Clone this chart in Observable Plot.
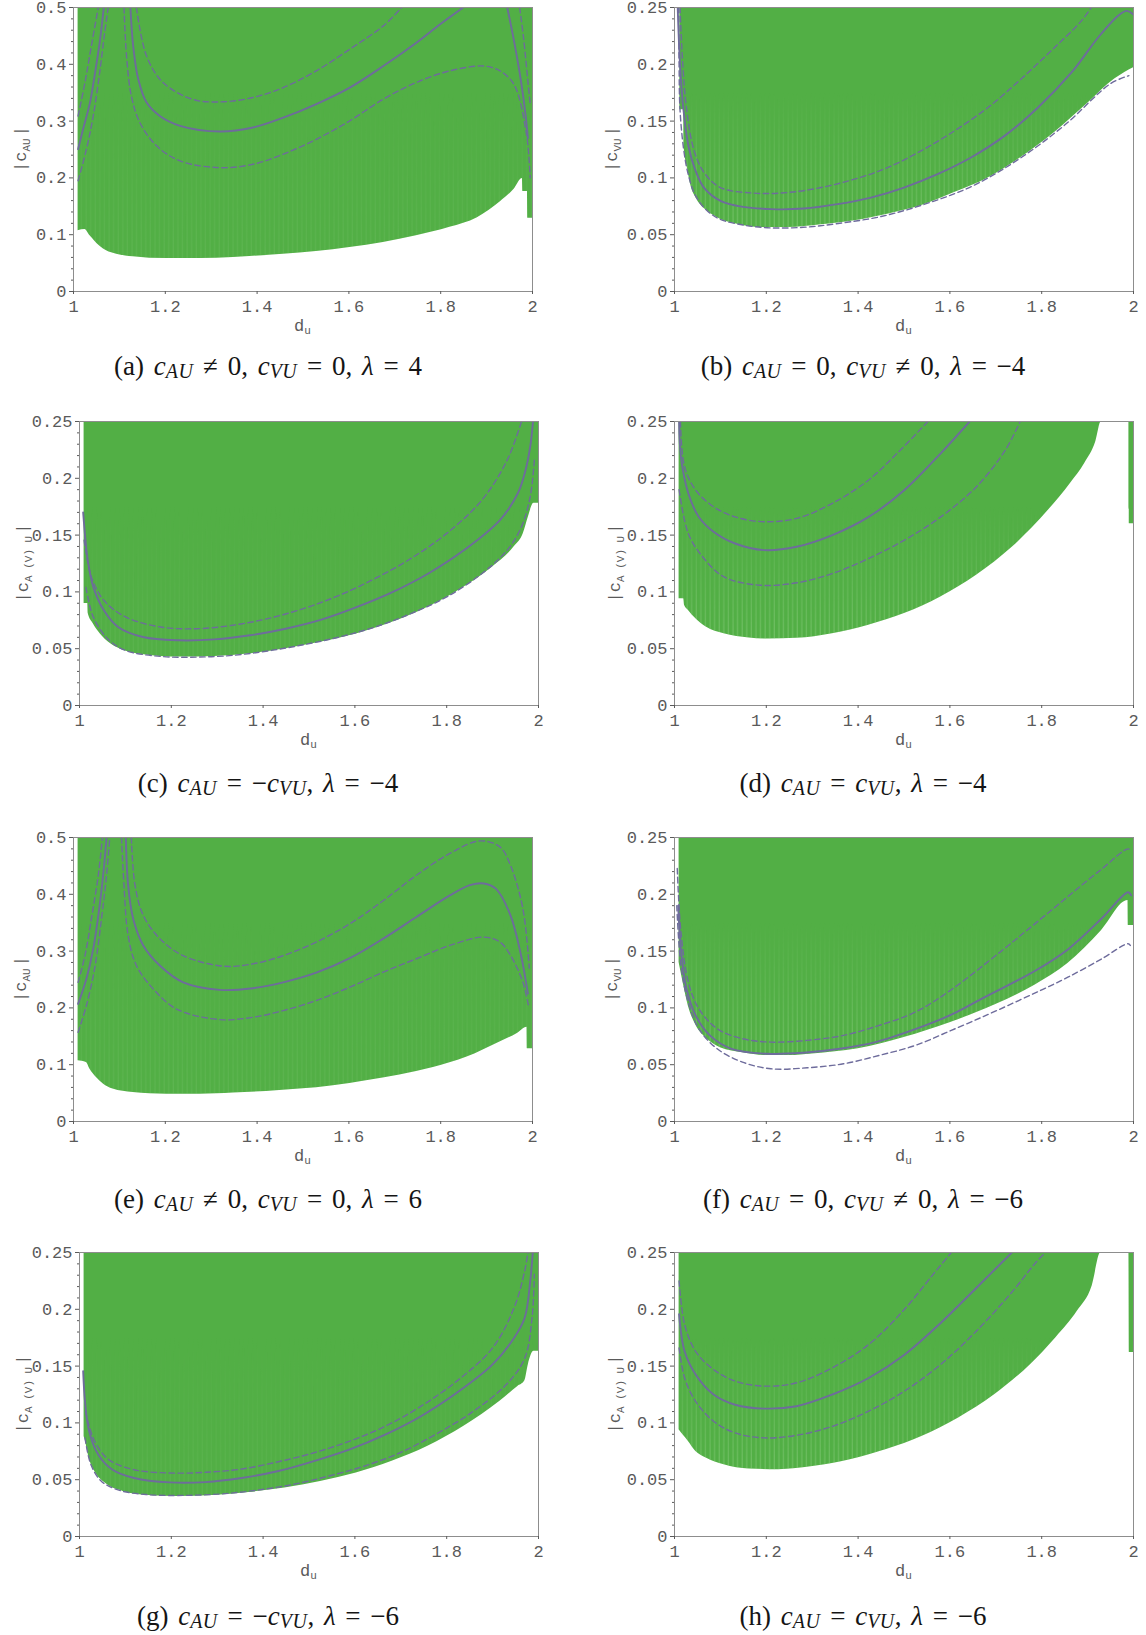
<!DOCTYPE html>
<html>
<head>
<meta charset="utf-8">
<script src="https://cdn.jsdelivr.net/npm/d3@7"></script>
<script src="https://cdn.jsdelivr.net/npm/@observablehq/plot@0.6"></script>
<style>
  html, body { margin: 0; padding: 0; background: #fff; }
  #fig { position: relative; width: 1146px; height: 1635px; overflow: hidden; background: #fff; }
  .cap { position: absolute; transform: translate(-50%, -50%); white-space: nowrap;
         font-family: "Liberation Serif", "DejaVu Serif", serif; font-size: 27px; color: #151515; word-spacing: 3px; }
  .cap sub { font-size: 0.74em; vertical-align: -0.2em; font-style: italic; letter-spacing: 0.5px; }
  .cap i { font-style: italic; }
</style>
</head>
<body>
<div id="fig"></div>
<script>
// ---------------- tick values ----------------
const X_TICKS = [1, 1.2, 1.4, 1.6, 1.8, 2];
const Y_TICKS_HALF = [0, 0.1, 0.2, 0.3, 0.4, 0.5];
const Y_TICKS_QUARTER = [0, 0.05, 0.1, 0.15, 0.2, 0.25];

// ---------------- (a) ----------------
const a_fill_x  = [1.01, 1.025, 1.036, 1.046, 1.057, 1.072, 1.094, 1.13, 1.166, 1.239, 1.312, 1.384, 1.457, 1.529, 1.602, 1.675, 1.747, 1.82, 1.88, 1.93, 1.96, 1.978, 1.979, 1.989, 1.99, 2.0];
const a_fill_lo = [0.107, 0.109, 0.098, 0.089, 0.080, 0.0716, 0.0657, 0.061, 0.0587, 0.058, 0.0587, 0.0616, 0.0657, 0.0704, 0.0775, 0.0863, 0.098, 0.113, 0.13, 0.158, 0.18, 0.199, 0.176, 0.176, 0.129, 0.129];
const a_solid_x = [1.01, 1.021, 1.036, 1.046, 1.057, 1.066, NaN, 1.124, 1.13, 1.141, 1.159, 1.188, 1.232, 1.319, 1.391, 1.457, 1.529, 1.602, 1.675, 1.747, 1.798, 1.849, NaN, 1.945, 1.96, 1.975, 1.985, 1.99];
const a_solid_y = [0.2506, 0.286, 0.333, 0.38, 0.438, 0.5, NaN, 0.5, 0.4325, 0.374, 0.333, 0.309, 0.2917, 0.2817, 0.2887, 0.306, 0.33, 0.359, 0.397, 0.438, 0.47, 0.5, NaN, 0.5, 0.44, 0.37, 0.31, 0.27];
const a_up_x = [1.01, 1.025, 1.039, 1.054, NaN, 1.137, 1.159, 1.195, 1.261, 1.326, 1.391, 1.457, 1.529, 1.602, 1.675, 1.715, NaN, 1.972, 1.98, 1.99, 1.995];
const a_up_y = [0.309, 0.368, 0.4325, 0.5, NaN, 0.5, 0.415, 0.368, 0.338, 0.334, 0.3415, 0.359, 0.3885, 0.4266, 0.4677, 0.5, NaN, 0.5, 0.45, 0.37, 0.33];
const a_lo_x = [1.01, 1.028, 1.043, 1.057, 1.068, 1.0755, NaN, 1.11, 1.1155, 1.126, 1.1445, 1.181, 1.232, 1.319, 1.391, 1.457, 1.529, 1.602, 1.675, 1.747, 1.82, 1.893, 1.929, 1.96, 1.987, 1.995];
const a_lo_y = [0.195, 0.25, 0.309, 0.3855, 0.456, 0.5, NaN, 0.5, 0.415, 0.3445, 0.2975, 0.2565, 0.23, 0.218, 0.224, 0.2418, 0.268, 0.3005, 0.3386, 0.368, 0.3885, 0.397, 0.3885, 0.364, 0.276, 0.2];

// ---------------- (b) ----------------
const b_fill_x  = [1.0116, 1.02, 1.021, 1.028, 1.035, 1.049, 1.071, 1.1, 1.137, 1.195, 1.246, 1.319, 1.392, 1.464, 1.537, 1.61, 1.683, 1.755, 1.828, 1.901, 1.959, 1.981, 2.0];
const b_fill_lo = [0.16, 0.16, 0.127, 0.109, 0.0945, 0.081, 0.071, 0.0637, 0.0593, 0.0563, 0.0563, 0.0587, 0.0622, 0.068, 0.0754, 0.0871, 0.1, 0.118, 0.14, 0.166, 0.187, 0.1928, 0.197];
const b_solid_x = [1.007, 1.012, 1.019, 1.031, 1.046, 1.064, 1.1, 1.137, 1.21, 1.282, 1.355, 1.428, 1.5, 1.573, 1.646, 1.719, 1.792, 1.865, 1.923, 1.9665, 1.985, 1.999];
const b_solid_y = [0.25, 0.2, 0.162, 0.1268, 0.1062, 0.0915, 0.0798, 0.0754, 0.0725, 0.073, 0.0769, 0.0827, 0.0915, 0.1033, 0.118, 0.137, 0.162, 0.1928, 0.2236, 0.2427, 0.247, 0.244];
const b_up_x = [1.012, 1.018, 1.026, 1.042, 1.064, 1.1, 1.173, 1.246, 1.319, 1.392, 1.464, 1.537, 1.61, 1.683, 1.755, 1.828, 1.886, 1.908];
const b_up_y = [0.25, 0.2, 0.162, 0.125, 0.105, 0.0915, 0.0866, 0.0871, 0.0915, 0.0989, 0.109, 0.1238, 0.1414, 0.162, 0.187, 0.2148, 0.238, 0.25];
const b_lo_x = [1.009, 1.01, 1.012, 1.02, 1.03, 1.045, 1.07, 1.1, 1.15, 1.21, 1.28, 1.35, 1.45, 1.55, 1.65, 1.75, 1.85, 1.95, 1.99];
const b_lo_y = [0.25, 0.2, 0.16, 0.125, 0.103, 0.085, 0.0715, 0.0635, 0.0585, 0.056, 0.0565, 0.0595, 0.066, 0.0775, 0.093, 0.1165, 0.1465, 0.183, 0.19];

// ---------------- (c) ----------------
const c_fill_x  = [1.01, 1.018, 1.019, 1.03, 1.045, 1.068, 1.1, 1.154, 1.216, 1.294, 1.372, 1.449, 1.527, 1.605, 1.683, 1.76, 1.838, 1.9, 1.947, 1.967, 1.978, 1.99, 2.0];
const c_fill_lo = [0.0897, 0.0897, 0.081, 0.072, 0.0632, 0.0544, 0.048, 0.0441, 0.0426, 0.0432, 0.0456, 0.05, 0.0559, 0.0632, 0.0735, 0.0868, 0.1044, 0.122, 0.1397, 0.1515, 0.166, 0.178, 0.178];
const c_solid_x = [1.008, 1.018, 1.03, 1.053, 1.084, 1.138, 1.216, 1.294, 1.372, 1.449, 1.527, 1.605, 1.683, 1.76, 1.838, 1.916, 1.955, 1.97, 1.982, 1.988];
const c_solid_y = [0.17, 0.128, 0.1044, 0.0838, 0.0691, 0.0603, 0.0574, 0.0582, 0.0618, 0.0676, 0.0756, 0.0868, 0.1, 0.1162, 0.1368, 0.1632, 0.1868, 0.2044, 0.228, 0.25];
const c_up_x = [1.01, 1.026, 1.053, 1.1, 1.177, 1.255, 1.333, 1.41, 1.488, 1.566, 1.644, 1.722, 1.8, 1.877, 1.932, 1.963];
const c_up_y = [0.1456, 0.113, 0.0926, 0.078, 0.0691, 0.0676, 0.0706, 0.0765, 0.0853, 0.097, 0.1118, 0.1294, 0.1515, 0.181, 0.2162, 0.25];
const c_lo_x = [1.014, 1.03, 1.061, 1.1, 1.177, 1.255, 1.333, 1.41, 1.488, 1.566, 1.644, 1.722, 1.8, 1.877, 1.932, 1.963, 1.982, 1.991];
const c_lo_y = [0.104, 0.078, 0.0588, 0.0485, 0.0432, 0.0426, 0.0441, 0.048, 0.0535, 0.0603, 0.0691, 0.0809, 0.0956, 0.1162, 0.1368, 0.1574, 0.184, 0.216];

// ---------------- (d) ----------------
const d_fill_x  = [1.01, 1.02, 1.022, 1.03, 1.046, 1.069, 1.108, 1.163, 1.203, 1.266, 1.344, 1.423, 1.501, 1.58, 1.658, 1.737, 1.815, 1.863, 1.894, 1.918, 1.93, 1.99, 1.991, 2.0];
const d_fill_lo = [0.094, 0.094, 0.088, 0.0838, 0.0765, 0.0691, 0.0632, 0.0594, 0.0585, 0.0591, 0.0632, 0.0706, 0.0809, 0.0956, 0.1147, 0.1397, 0.172, 0.1956, 0.2132, 0.2324, 0.25, 0.25, 0.16, 0.16];
const d_solid_x = [1.01, 1.014, 1.03, 1.053, 1.085, 1.132, 1.195, 1.266, 1.344, 1.423, 1.501, 1.58, 1.643];
const d_solid_y = [0.25, 0.219, 0.1868, 0.166, 0.153, 0.1426, 0.1368, 0.1397, 0.15, 0.166, 0.1897, 0.222, 0.25];
const d_up_x = [1.013, 1.022, 1.046, 1.085, 1.132, 1.195, 1.266, 1.344, 1.423, 1.485, 1.552];
const d_up_y = [0.25, 0.21, 0.1897, 0.175, 0.166, 0.1618, 0.1647, 0.178, 0.1985, 0.222, 0.25];
const d_lo_x = [1.01, 1.03, 1.061, 1.108, 1.187, 1.266, 1.344, 1.423, 1.501, 1.58, 1.658, 1.721, 1.753];
const d_lo_y = [0.19, 0.1515, 0.131, 0.1132, 0.1059, 0.108, 0.1162, 0.1294, 0.1456, 0.166, 0.1926, 0.225, 0.25];

// ---------------- (e) ----------------
const e_fill_x  = [1.01, 1.028, 1.036, 1.05, 1.065, 1.086, 1.13, 1.203, 1.275, 1.348, 1.42, 1.493, 1.566, 1.638, 1.711, 1.784, 1.856, 1.929, 1.967, 1.988, 1.989, 2.0];
const e_fill_lo = [0.107, 0.104, 0.092, 0.0776, 0.066, 0.057, 0.051, 0.048, 0.048, 0.05, 0.053, 0.057, 0.063, 0.0718, 0.0818, 0.095, 0.113, 0.14, 0.155, 0.166, 0.128, 0.128];
const e_solid_x = [1.01, 1.028, 1.043, 1.057, 1.066, 1.072, NaN, 1.114, 1.119, 1.13, 1.152, 1.188, 1.239, 1.319, 1.391, 1.457, 1.529, 1.602, 1.675, 1.747, 1.82, 1.8635, 1.894, 1.92, 1.952, 1.975, 1.99];
const e_solid_y = [0.207, 0.251, 0.304, 0.3806, 0.445, 0.5, NaN, 0.5, 0.416, 0.357, 0.31, 0.2747, 0.245, 0.2318, 0.2347, 0.245, 0.262, 0.2875, 0.322, 0.36, 0.398, 0.416, 0.419, 0.41, 0.363, 0.2926, 0.225];
const e_up_x = [1.01, 1.025, 1.039, 1.054, 1.063, NaN, 1.126, 1.134, 1.152, 1.188, 1.239, 1.326, 1.391, 1.457, 1.529, 1.602, 1.675, 1.747, 1.82, 1.885, 1.929, 1.952, 1.979, 1.993];
const e_up_y = [0.245, 0.292, 0.357, 0.4335, 0.5, NaN, 0.5, 0.416, 0.363, 0.322, 0.292, 0.2735, 0.2776, 0.292, 0.316, 0.348, 0.389, 0.4335, 0.472, 0.494, 0.4835, 0.451, 0.375, 0.27];
const e_lo_x = [1.01, 1.028, 1.046, 1.061, 1.072, 1.079, NaN, 1.1046, 1.11, 1.119, 1.137, 1.1736, 1.2244, 1.319, 1.391, 1.457, 1.529, 1.602, 1.675, 1.747, 1.82, 1.893, 1.929, 1.952, 1.979, 1.991];
const e_lo_y = [0.157, 0.204, 0.269, 0.357, 0.4335, 0.5, NaN, 0.5, 0.416, 0.3276, 0.2747, 0.2335, 0.198, 0.1794, 0.1835, 0.1953, 0.213, 0.2365, 0.263, 0.2865, 0.31, 0.3247, 0.316, 0.2926, 0.2456, 0.2045];

// ---------------- (f) ----------------
const f_fill_x  = [1.01, 1.02, 1.03, 1.045, 1.07, 1.1, 1.15, 1.2, 1.25, 1.3, 1.4, 1.5, 1.6, 1.7, 1.785, 1.857, 1.93, 1.988, 1.989, 2.0];
const f_fill_lo = [0.14, 0.12, 0.102, 0.086, 0.073, 0.065, 0.0605, 0.058, 0.058, 0.0595, 0.064, 0.074, 0.087, 0.103, 0.12, 0.139, 0.168, 0.1945, 0.1725, 0.1725];
const f_solid_x = [1.008, 1.014, 1.026, 1.046, 1.077, 1.124, 1.203, 1.281, 1.36, 1.438, 1.517, 1.603, 1.676, 1.785, 1.857, 1.93, 1.988, 1.995];
const f_solid_y = [0.19, 0.152, 0.117, 0.0934, 0.0758, 0.064, 0.0596, 0.0605, 0.064, 0.0699, 0.0802, 0.094, 0.1095, 0.1325, 0.1515, 0.1785, 0.2018, 0.199];
const f_up_x = [1.006, 1.014, 1.03, 1.053, 1.093, 1.148, 1.21, 1.289, 1.368, 1.446, 1.525, 1.603, 1.712, 1.785, 1.857, 1.93, 1.988, 1.995];
const f_up_y = [0.2227, 0.1669, 0.1228, 0.0993, 0.0817, 0.0729, 0.0699, 0.0714, 0.0758, 0.0846, 0.0964, 0.116, 0.150, 0.174, 0.198, 0.222, 0.240, 0.238];
const f_lo_x = [1.005, 1.014, 1.03, 1.053, 1.093, 1.148, 1.21, 1.289, 1.368, 1.446, 1.525, 1.603, 1.682, 1.75, 1.806, 1.857, 1.93, 1.988, 1.993];
const f_lo_y = [0.19, 0.1375, 0.105, 0.0817, 0.064, 0.0523, 0.0464, 0.0473, 0.0508, 0.0582, 0.067, 0.0802, 0.094, 0.1065, 0.117, 0.127, 0.143, 0.1565, 0.155];

// ---------------- (g) ----------------
const g_fill_x  = [1.01, 1.013, 1.021, 1.033, 1.056, 1.095, 1.15, 1.2125, 1.29, 1.369, 1.447, 1.525, 1.603, 1.681, 1.759, 1.8375, 1.916, 1.955, 1.97, 1.978, 1.99, 2.0];
const g_fill_lo = [0.088, 0.0838, 0.069, 0.0574, 0.047, 0.0397, 0.0362, 0.0353, 0.0362, 0.0388, 0.0426, 0.0485, 0.0559, 0.0662, 0.0794, 0.097, 0.119, 0.132, 0.1368, 0.1515, 0.163, 0.163];
const g_solid_x = [1.008, 1.012, 1.021, 1.041, 1.072, 1.119, 1.197, 1.275, 1.353, 1.431, 1.509, 1.5875, 1.666, 1.744, 1.822, 1.9, 1.947, 1.97, 1.982, 1.9875];
const g_solid_y = [0.1456, 0.119, 0.0926, 0.072, 0.0588, 0.0515, 0.0476, 0.0479, 0.0515, 0.0574, 0.0662, 0.0765, 0.0897, 0.1059, 0.1265, 0.1515, 0.175, 0.1926, 0.225, 0.25];
const g_up_x = [1.013, 1.033, 1.064, 1.119, 1.197, 1.275, 1.353, 1.431, 1.509, 1.5875, 1.666, 1.744, 1.822, 1.9, 1.947, 1.97, 1.977];
const g_up_y = [0.110, 0.0838, 0.0676, 0.0588, 0.0559, 0.0565, 0.0594, 0.0656, 0.0735, 0.0838, 0.097, 0.1147, 0.1368, 0.166, 0.2015, 0.234, 0.25];
const g_lo_x = [1.012, 1.025, 1.048, 1.0875, 1.15, 1.228, 1.306, 1.384, 1.4625, 1.54, 1.619, 1.697, 1.775, 1.853, 1.93, 1.97, 1.986, 1.991];
const g_lo_y = [0.0868, 0.0632, 0.0485, 0.0406, 0.0368, 0.0362, 0.0374, 0.0406, 0.0456, 0.0529, 0.0618, 0.0735, 0.0897, 0.1088, 0.1338, 0.157, 0.1926, 0.231];

// ---------------- (h) ----------------
const h_fill_x  = [1.01, 1.018, 1.03, 1.046, 1.069, 1.108, 1.163, 1.226, 1.305, 1.383, 1.462, 1.54, 1.619, 1.698, 1.776, 1.831, 1.878, 1.91, 1.929, 1.99, 1.991, 2.0];
const h_fill_lo = [0.094, 0.0897, 0.0838, 0.075, 0.0691, 0.0632, 0.0594, 0.0588, 0.0618, 0.0676, 0.0765, 0.0882, 0.1044, 0.125, 0.1515, 0.175, 0.1985, 0.2206, 0.25, 0.25, 0.162, 0.162];
const h_solid_x = [1.01, 1.022, 1.046, 1.085, 1.132, 1.195, 1.266, 1.344, 1.423, 1.501, 1.58, 1.658, 1.735];
const h_solid_y = [0.1956, 0.163, 0.1426, 0.125, 0.116, 0.1126, 0.1147, 0.125, 0.1395, 0.16, 0.188, 0.219, 0.25];
const h_up_x = [1.01, 1.022, 1.046, 1.085, 1.132, 1.195, 1.266, 1.344, 1.423, 1.501, 1.564, 1.603];
const h_up_y = [0.225, 0.1868, 0.163, 0.147, 0.1368, 0.1324, 0.1353, 0.1485, 0.169, 0.2, 0.231, 0.25];
const h_lo_x = [1.01, 1.022, 1.046, 1.085, 1.132, 1.195, 1.266, 1.344, 1.423, 1.501, 1.58, 1.658, 1.737, 1.784, 1.808];
const h_lo_y = [0.166, 0.1397, 0.119, 0.1015, 0.0912, 0.0868, 0.0891, 0.097, 0.1103, 0.128, 0.1515, 0.181, 0.216, 0.2397, 0.25];

// ---------------- labels ----------------
const Y_LABEL_SUBS = ["AU", "VU", "A (V) U", "A (V) U", "AU", "VU", "A (V) U", "A (V) U"];
const CAPTION_TAGS = ["(a)", "(b)", "(c)", "(d)", "(e)", "(f)", "(g)", "(h)"];
const CAPTION_EXPR = [
  "c_AU ≠ 0, c_VU = 0, λ = 4",
  "c_AU = 0, c_VU ≠ 0, λ = −4",
  "c_AU = −c_VU, λ = −4",
  "c_AU = c_VU, λ = −4",
  "c_AU ≠ 0, c_VU = 0, λ = 6",
  "c_AU = 0, c_VU ≠ 0, λ = −6",
  "c_AU = −c_VU, λ = −6",
  "c_AU = c_VU, λ = −6"
];
const X_LABEL = ["d", "u"];

// ---------------- rendering ----------------
const GREEN = "#52af45";
const STRIPE = "#a9de9e";
const CURVE = "#6e6c9c";
const AXIS_GRAY = "#5a5a5a";

const panels = [
  {fx: a_fill_x, fy: a_fill_lo, sx: a_solid_x, sy: a_solid_y, ux: a_up_x, uy: a_up_y, lx: a_lo_x, ly: a_lo_y, ymax: 0.5},
  {fx: b_fill_x, fy: b_fill_lo, sx: b_solid_x, sy: b_solid_y, ux: b_up_x, uy: b_up_y, lx: b_lo_x, ly: b_lo_y, ymax: 0.25},
  {fx: c_fill_x, fy: c_fill_lo, sx: c_solid_x, sy: c_solid_y, ux: c_up_x, uy: c_up_y, lx: c_lo_x, ly: c_lo_y, ymax: 0.25},
  {fx: d_fill_x, fy: d_fill_lo, sx: d_solid_x, sy: d_solid_y, ux: d_up_x, uy: d_up_y, lx: d_lo_x, ly: d_lo_y, ymax: 0.25},
  {fx: e_fill_x, fy: e_fill_lo, sx: e_solid_x, sy: e_solid_y, ux: e_up_x, uy: e_up_y, lx: e_lo_x, ly: e_lo_y, ymax: 0.5},
  {fx: f_fill_x, fy: f_fill_lo, sx: f_solid_x, sy: f_solid_y, ux: f_up_x, uy: f_up_y, lx: f_lo_x, ly: f_lo_y, ymax: 0.25},
  {fx: g_fill_x, fy: g_fill_lo, sx: g_solid_x, sy: g_solid_y, ux: g_up_x, uy: g_up_y, lx: g_lo_x, ly: g_lo_y, ymax: 0.25},
  {fx: h_fill_x, fy: h_fill_lo, sx: h_solid_x, sy: h_solid_y, ux: h_up_x, uy: h_up_y, lx: h_lo_x, ly: h_lo_y, ymax: 0.25}
];
// frame positions (left, top), y-label offsets and stripe strength
const LAYOUT = [
  {left: 73, top: 7, ylab: -53, stripe: 0.2}, {left: 674, top: 7, ylab: -63, stripe: 0.65},
  {left: 79, top: 421, ylab: -57, stripe: 0.18}, {left: 674, top: 421, ylab: -60, stripe: 0.65},
  {left: 73, top: 837, ylab: -53, stripe: 0.2}, {left: 674, top: 837, ylab: -63, stripe: 0.65},
  {left: 79, top: 1252, ylab: -57, stripe: 0.18}, {left: 674, top: 1252, ylab: -60, stripe: 0.65}
];
const CAP_POS = [
  {x: 268, y: 367}, {x: 863, y: 367},
  {x: 268, y: 784}, {x: 863, y: 784},
  {x: 268, y: 1200}, {x: 863, y: 1200},
  {x: 268, y: 1617}, {x: 863, y: 1617}
];

const fig = document.getElementById("fig");
const fmt = d => String(+(+d).toFixed(2));
const toPts = (xs, ys) => xs.map((x, i) => ({x: x, y: ys[i]}));

panels.forEach((p, k) => {
  const L = LAYOUT[k];
  const mL = 80, mR = 14, mT = 7, mB = 50, W = 459, H = 284;
  const yTicks = p.ymax === 0.5 ? Y_TICKS_HALF : Y_TICKS_QUARTER;
  const step = p.ymax === 0.5 ? 0.02 : 0.01;
  const nMinor = Math.round(p.ymax / step);
  const yMinor = d3.range(0, nMinor + 1).map(i => +(i * step).toFixed(3)).filter(v => !yTicks.some(t => Math.abs(t - v) < 1e-9));
  const fill = p.fx.map((x, i) => ({x: x, lo: p.fy[i]}));
  const dashOpts = {x: "x", y: "y", stroke: CURVE, strokeWidth: 1.4, strokeDasharray: "5.5,3.5", curve: "catmull-rom", clip: true};
  const sid = "stripes" + k, mid = "smask" + k, gid = "sgrad" + k;

  const chart = Plot.plot({
    width: W + mL + mR, height: H + mT + mB,
    marginLeft: mL, marginRight: mR, marginTop: mT, marginBottom: mB,
    style: {fontFamily: "'Liberation Mono', 'DejaVu Sans Mono', monospace", fontSize: "17px", color: AXIS_GRAY, background: "transparent", overflow: "visible"},
    x: {domain: [1, 2], label: null},
    y: {domain: [0, p.ymax], label: null},
    marks: [
      Plot.areaY(fill, {x: "x", y1: "lo", y2: p.ymax, fill: GREEN, curve: "monotone-x", clip: true}),
      Plot.line(toPts(p.lx, p.ly), dashOpts),
      Plot.line(toPts(p.ux, p.uy), dashOpts),
      Plot.line(toPts(p.sx, p.sy), {x: "x", y: "y", stroke: CURVE, strokeWidth: 1.9, curve: "catmull-rom", clip: true}),
      Plot.frame({stroke: "#8d8d8d", strokeWidth: 1}),
      Plot.axisX({ticks: X_TICKS, tickSize: 3, tickPadding: 5, tickFormat: fmt, label: null}),
      Plot.axisY({ticks: yTicks, tickSize: 4, tickPadding: 3, tickFormat: fmt, label: null}),
      Plot.axisY({ticks: yMinor, tickSize: 2, tickPadding: 0, tickFormat: () => "", label: null})
    ]
  });
  chart.style.position = "absolute";
  chart.style.left = (L.left - mL) + "px";
  chart.style.top = (L.top - mT) + "px";
  chart.style.maxWidth = "none";

  const svg = d3.select(chart);
  // texture of thin light columns (as in the rasterised region plot), fading toward the top
  const colW = W / 100;
  const defs = svg.insert("defs", ":first-child");
  const pat = defs.append("pattern").attr("id", sid).attr("patternUnits", "userSpaceOnUse")
    .attr("x", mL).attr("y", 0).attr("width", colW).attr("height", 20);
  pat.append("rect").attr("x", colW - 1.2).attr("y", 0).attr("width", 1).attr("height", 20).attr("fill", STRIPE);
  const grad = defs.append("linearGradient").attr("id", gid).attr("x1", 0).attr("y1", 0).attr("x2", 0).attr("y2", 1);
  grad.append("stop").attr("offset", "0").attr("stop-color", "#000");
  grad.append("stop").attr("offset", "0.3").attr("stop-color", "#000");
  grad.append("stop").attr("offset", "1").attr("stop-color", d3.interpolateRgb("#000", "#fff")(L.stripe));
  const mask = defs.append("mask").attr("id", mid).attr("maskUnits", "userSpaceOnUse")
    .attr("x", 0).attr("y", 0).attr("width", W + mL + mR).attr("height", H + mT + mB);
  mask.append("rect").attr("x", mL).attr("y", mT).attr("width", W).attr("height", H).attr("fill", `url(#${gid})`);
  const basePath = svg.select('g[aria-label="area"] path').node();
  if (basePath) {
    const tex = basePath.cloneNode(true);
    tex.setAttribute("fill", `url(#${sid})`);
    tex.setAttribute("mask", `url(#${mid})`);
    basePath.parentNode.insertBefore(tex, basePath.nextSibling);
  }

  // y label
  const yl = svg.append("text")
    .attr("transform", `translate(${mL + L.ylab},${mT + H / 2}) rotate(-90)`)
    .attr("text-anchor", "middle").attr("y", 6)
    .attr("fill", AXIS_GRAY).attr("font-size", 17);
  yl.append("tspan").text("|c");
  yl.append("tspan").attr("font-size", 11).attr("dy", 4).text(Y_LABEL_SUBS[k]);
  yl.append("tspan").attr("dy", -4).attr("dx", 2).text("|");
  // x label
  const xl = svg.append("text")
    .attr("x", mL + W / 2).attr("y", mT + H + 40)
    .attr("text-anchor", "middle").attr("fill", AXIS_GRAY).attr("font-size", 17);
  xl.append("tspan").text(X_LABEL[0]);
  xl.append("tspan").attr("font-size", 11).attr("dy", 3).text(X_LABEL[1]);

  fig.appendChild(chart);

  // caption
  const cap = document.createElement("div");
  cap.className = "cap";
  cap.style.left = CAP_POS[k].x + "px";
  cap.style.top = CAP_POS[k].y + "px";
  const html = CAPTION_EXPR[k]
    .replace(/c_AU/g, "<i>c</i><sub>AU</sub>")
    .replace(/c_VU/g, "<i>c</i><sub>VU</sub>")
    .replace(/λ/g, "<i>λ</i>");
  cap.innerHTML = CAPTION_TAGS[k] + "&nbsp;" + html;
  fig.appendChild(cap);
});
</script>
</body>
</html>
